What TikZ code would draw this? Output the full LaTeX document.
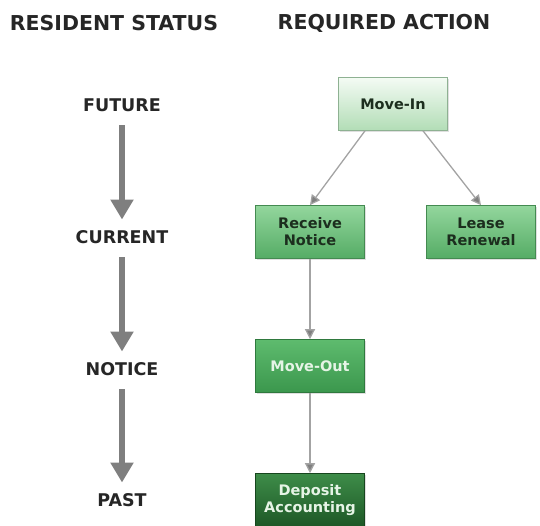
\documentclass[tikz,border=0pt]{standalone}
\usepackage{fontspec}
\setmainfont{DejaVu Sans}
\usetikzlibrary{arrows.meta,shadows}

\definecolor{arrowgray}{HTML}{7F7F7F}
\definecolor{linkgray}{HTML}{A3A3A3}
\definecolor{paletop}{HTML}{F4FBF4}
\definecolor{palebot}{HTML}{B2DDB6}
\definecolor{midtop}{HTML}{93D69D}
\definecolor{midbot}{HTML}{55AC65}
\definecolor{outtop}{HTML}{5EBB6E}
\definecolor{outbot}{HTML}{3B974D}
\definecolor{deeptop}{HTML}{3E8C49}
\definecolor{deepbot}{HTML}{1D5826}
\definecolor{darktext}{HTML}{1C2E1E}
\definecolor{lighttext}{HTML}{E6F4E6}

\begin{document}
\begin{tikzpicture}[x=1pt, y=-1pt,
    header/.style={font=\fontsize{20.5}{24}\selectfont\bfseries, text=black!85, inner sep=0pt},
    status/.style={font=\fontsize{17.5}{20}\selectfont\bfseries, text=black!85, inner sep=0pt,
        text height=12.5pt, text depth=0pt},
    action/.style={draw=#1!80!black, line width=0.6pt, minimum width=109pt, minimum height=53pt,
        align=center, font=\fontsize{14.5}{17}\selectfont\bfseries,
        drop shadow={shadow xshift=1.5pt, shadow yshift=-1.5pt, opacity=0.25}},
    statusarrow/.style={draw=arrowgray, line width=5.5pt, -{Triangle[width=22pt,length=20pt]},
        shorten <=14pt, shorten >=11pt},
    link/.style={draw=linkgray, line width=1.3pt, -{Triangle[width=10pt,length=10pt,fill=arrowgray]}}]
\useasboundingbox (0,0) rectangle (540,525);

% column titles
\node[header] (hstatus) at (114,23) {RESIDENT STATUS};
\node[header] (haction) at (384,23) {REQUIRED ACTION};

% resident status
\node[status] (future) at (122,105) {FUTURE};
\node[status] (current) at (122,237) {CURRENT};
\node[status] (notice) at (122,369) {NOTICE};
\node[status] (past) at (122,500) {PAST};

\draw[statusarrow] (future) -- (current);
\draw[statusarrow] (current) -- (notice);
\draw[statusarrow] (notice) -- (past);

% required actions
\node[action=palebot, top color=paletop, bottom color=palebot, text=darktext] (movein) at (393,104) {Move-In};
\node[action=midbot, top color=midtop, bottom color=midbot, text=darktext] (receive) at (310,232) {Receive\\Notice};
\node[action=midbot, top color=midtop, bottom color=midbot, text=darktext] (renewal) at (481,232) {Lease\\Renewal};
\node[action=outbot, top color=outtop, bottom color=outbot, text=lighttext] (moveout) at (310,366) {Move-Out};
\node[action=deepbot, top color=deeptop, bottom color=deepbot, text=lighttext] (deposit) at (310,500) {Deposit\\Accounting};

\draw[link] ([xshift=-28pt]movein.south) -- (receive.north);
\draw[link] ([xshift=30pt]movein.south) -- (renewal.north);
\draw[link] (receive) -- (moveout);
\draw[link] (moveout) -- (deposit);
\end{tikzpicture}
\end{document}
